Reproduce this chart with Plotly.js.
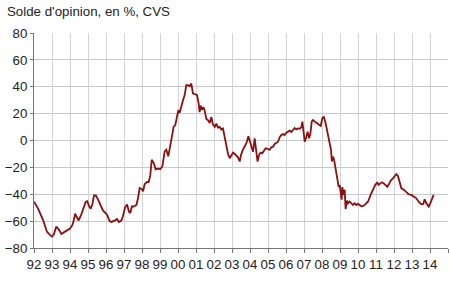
<!DOCTYPE html>
<html>
<head>
<meta charset="utf-8">
<script src="https://cdn.plot.ly/plotly-3.0.1.min.js"></script>
<style>
html,body{margin:0;padding:0;background:#fff;}
#chart{width:450px;height:291px;}
</style>
</head>
<body>
<div id="chart"></div>
<script>
// Decimal year of each observation
var years = [
1992.00,1992.22,1992.50,1992.72,1992.87,1993.00,1993.10,1993.24,1993.39,1993.52,1993.70,1993.89,
1994.00,1994.13,1994.20,1994.28,1994.39,1994.48,1994.63,1994.76,1994.87,1994.96,
1995.06,1995.15,1995.24,1995.33,1995.43,1995.56,1995.69,1995.83,1995.98,
1996.07,1996.20,1996.30,1996.48,1996.61,1996.72,1996.85,1996.94,
1997.06,1997.17,1997.28,1997.35,1997.44,1997.54,1997.69,1997.78,1997.87,1997.96,
1998.06,1998.15,1998.28,1998.37,1998.46,1998.54,1998.65,1998.76,1998.89,
1999.02,1999.13,1999.26,1999.35,1999.46,1999.57,1999.63,1999.69,1999.76,1999.85,1999.94,
2000.02,2000.09,2000.19,2000.28,2000.37,2000.46,2000.56,2000.65,2000.74,2000.83,2000.93,
2001.06,2001.15,2001.20,2001.26,2001.33,2001.41,2001.48,2001.57,2001.67,2001.76,2001.85,2001.94,
2002.04,2002.13,2002.22,2002.31,2002.41,2002.50,2002.59,2002.69,2002.78,2002.87,2002.96,
2003.06,2003.15,2003.24,2003.33,2003.43,2003.50,2003.60,2003.70,2003.80,2003.91,
2004.02,2004.09,2004.17,2004.26,2004.35,2004.42,2004.50,2004.59,2004.68,2004.78,2004.87,
2005.00,2005.09,2005.18,2005.28,2005.37,2005.46,2005.55,2005.65,2005.74,2005.83,2005.92,
2006.02,2006.11,2006.20,2006.30,2006.39,2006.48,2006.57,2006.67,2006.76,2006.85,2006.91,2006.96,
2007.04,2007.13,2007.20,2007.28,2007.35,2007.43,2007.50,2007.61,2007.72,2007.83,2007.93,
2008.02,2008.10,2008.20,2008.28,2008.35,2008.43,2008.50,2008.55,2008.61,2008.67,2008.74,2008.80,2008.87,2008.93,2008.98,
2009.04,2009.09,2009.13,2009.19,2009.26,2009.31,2009.39,2009.44,2009.54,2009.63,2009.72,2009.81,2009.91,
2010.00,2010.09,2010.19,2010.28,2010.37,2010.46,2010.56,2010.70,2010.83,2010.96,
2011.07,2011.15,2011.24,2011.33,2011.43,2011.52,2011.63,2011.72,2011.81,2011.94,
2012.04,2012.13,2012.22,2012.31,2012.41,2012.56,2012.69,2012.81,2012.96,
2013.11,2013.24,2013.37,2013.52,2013.63,2013.70,2013.80,2013.93,
2014.02,2014.11,2014.20
];
// Opinion balance, %, seasonally adjusted
var solde = [
-45.5,-50.5,-59,-68,-70,-71.5,-70,-64,-66.5,-69.5,-68,-66,
-65.5,-63,-60,-54.5,-58,-59.5,-55,-50,-45.7,-45.2,
-49,-50.7,-47.7,-41,-40.8,-44,-48.5,-52,-54,
-55.6,-60,-60.6,-59.6,-58.4,-60.6,-59.6,-56.4,
-49.7,-47.7,-53,-54,-49,-49.2,-48,-42.8,-35.3,-35.8,
-37.8,-32.4,-30.9,-30.9,-26,-14.3,-16.8,-21.5,-21,
-21.2,-19.3,-8.1,-6.9,-11.8,-4.4,-1,5.3,10.3,11.5,17.7,
22.6,20.6,26.3,30,33.8,41.2,41.2,40.4,42.4,35,34.6,
33.8,27.3,21.1,26,22.8,24.8,22.4,16.2,15,13,17.5,12,
10.1,12.5,9.6,10.1,8.1,8.9,2.7,-5.8,-10,-13.2,-10.7,
-9,-10,-11.5,-12.5,-15.6,-10.7,-7,-5,-2,3.2,
-2,-5.5,-8.3,1.6,-7,-15.7,-10.8,-9,-9.5,-7,-5.8,
-6.3,-7,-5.1,-4.6,-2.6,-1.6,-1.1,2.4,4.1,4.8,4.1,
5.8,6.5,7.3,6.3,8.3,9.3,8.3,9,8.8,9.8,14,6.5,
-0.9,2.8,6.5,1.6,4.8,14,15.2,14,12.9,12.4,10.8,
16.8,17.5,13,8,3,-2,-7,-15.6,-12,-14.3,-20.5,-24.3,-29,-34.7,-33,
-38,-44,-34.7,-40.4,-36.7,-51,-44.7,-46.7,-45.4,-46.7,-48,-46.7,-48,
-47.2,-48,-49,-48.6,-48,-46.7,-45.4,-40.5,-36.3,-33,
-31.4,-33,-31.9,-31.1,-31.9,-33,-34.4,-32.4,-30,-28.2,
-26.4,-25,-26.4,-31.9,-35.6,-36.8,-38.8,-40,-40.5,
-41.8,-43,-45.5,-47.5,-47.2,-43.8,-46.7,-49.2,
-46.7,-43,-40.5
];
var yearTicks = [1992,1993,1994,1995,1996,1997,1998,1999,2000,2001,2002,2003,2004,2005,2006,2007,2008,2009,2010,2011,2012,2013,2014,2015];
var yearLabels = ["92","93","94","95","96","97","98","99","00","01","02","03","04","05","06","07","08","09","10","11","12","13","14",""];
var yTicks = [-80,-60,-40,-20,0,20,40,60,80];

var trace = {
  x: years, y: solde, type: 'scatter', mode: 'lines',
  line: {color: '#8b1010', width: 1.8}, hoverinfo: 'skip'
};
var layout = {
  width: 450, height: 291,
  margin: {l: 34, r: 2, t: 33, b: 43},
  paper_bgcolor: '#ffffff', plot_bgcolor: '#ffffff',
  showlegend: false,
  font: {family: 'Liberation Sans, Arial, sans-serif', size: 13, color: '#222'},
  title: {
    text: "Solde d'opinion, en %, CVS",
    font: {family: 'Liberation Sans, Arial, sans-serif', size: 13.3, color: '#222'},
    x: 7/450, xanchor: 'left', xref: 'container',
    y: 1 - 11/291, yanchor: 'middle', yref: 'container'
  },
  xaxis: {
    range: [1992, 2015], tickmode: 'array', tickvals: yearTicks, ticktext: yearLabels,
    showgrid: true, gridcolor: '#d4d4d4', gridwidth: 1,
    showline: true, linecolor: '#777', linewidth: 1,
    ticks: 'outside', ticklen: 4, tickcolor: '#777',
    zeroline: false, fixedrange: true,
    tickfont: {size: 13.3, color: '#222'}
  },
  yaxis: {
    range: [-80, 80], tickmode: 'array', tickvals: yTicks,
    showgrid: true, gridcolor: '#c8c8c8', gridwidth: 1,
    showline: true, linecolor: '#777', linewidth: 1,
    ticks: 'outside', ticklen: 3, tickcolor: '#777',
    zeroline: false, fixedrange: true,
    tickfont: {size: 13.3, color: '#222'}
  }
};
Plotly.newPlot('chart', [trace], layout, {staticPlot: true, displayModeBar: false});
</script>
</body>
</html>
